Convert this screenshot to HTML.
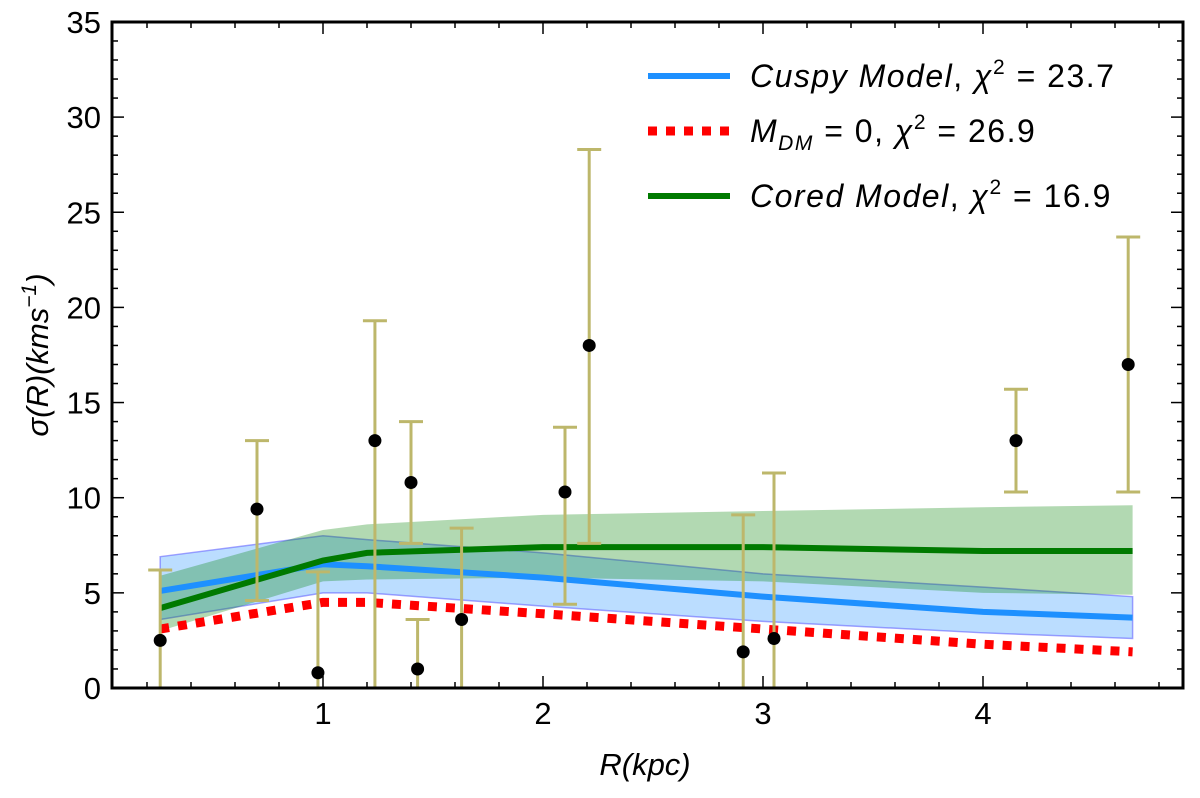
<!DOCTYPE html>
<html><head><meta charset="utf-8"><style>
body{margin:0;background:#fff;}
svg text{font-family:"Liberation Sans",sans-serif;}
</style></head><body>
<svg id="chart" width="1200" height="793" xmlns="http://www.w3.org/2000/svg"></svg>
<script>
const xs=[0.26,0.7,0.977,1.236,1.4,1.43,1.63,2.1,2.21,2.91,3.05,4.15,4.66];
const ys=[2.5,9.4,0.8,13,10.8,1.0,3.6,10.3,18,1.9,2.6,13,17];
const yHi=[6.2,13,6.1,19.3,14,3.6,8.4,13.7,28.3,9.1,11.3,15.7,23.7];
const yLo=[0,4.6,0,0,7.6,0,0,4.4,7.6,0,0,10.3,10.3];
const mx=[0.26,1.0,1.2,2,3,4,4.68];
const cuspy=[5.1,6.5,6.4,5.8,4.8,4.0,3.7];
const cuspyHi=[6.9,8.0,7.8,7.1,6.0,5.3,4.8];
const cuspyLo=[3.6,5.0,5.0,4.3,3.5,2.9,2.6];
const nodm=[3.1,4.5,4.5,3.9,3.1,2.3,1.9];
const cored=[4.2,6.7,7.1,7.4,7.4,7.2,7.2];
const coredHi=[5.9,8.3,8.6,9.1,9.3,9.5,9.6];
const coredLo=[3.0,5.6,5.7,5.8,5.6,5.0,4.9];
const xTicks=[1,2,3,4];
const yTicks=[0,5,10,15,20,25,30,35];
const L=112,R=1183,T=22,B=688;
const X=v=>103+220*v, Y=v=>688-19.03*v;
const svg=document.getElementById('chart');
const NS='http://www.w3.org/2000/svg';
function el(t,a,p){const e=document.createElementNS(NS,t);for(const k in a)e.setAttribute(k,a[k]);(p||svg).appendChild(e);return e;}
function band(lo,hi,fill,stroke,name){
  let d='M'+mx.map((x,i)=>X(x)+','+Y(hi[i])).join('L')+'L'+mx.map((x,i)=>X(x)+','+Y(lo[i])).reverse().join('L')+'Z';
  const e=el('path',{d:d,fill:fill,stroke:stroke,'stroke-width':1.5});
  
  
}
function line(v,color,w,dash,name){
  const e=el('polyline',{points:mx.map((x,i)=>X(x)+','+Y(v[i])).join(' '),fill:'none',stroke:color,'stroke-width':w,'stroke-dasharray':dash||'none'});
  
  
}
band(cuspyLo,cuspyHi,'rgba(30,144,255,0.3)','rgba(100,100,255,0.6)','cuspy-band');
band(coredLo,coredHi,'rgba(0,128,0,0.3)','none','cored-band');
line(nodm,'#ff0000',9,'9,9','nodm-line');
line(cuspy,'#1e90ff',6,null,'cuspy-line');
line(cored,'#007a00',6,null,'cored-line');
xs.forEach((x,i)=>{
  const g=el('g',{});
  
  
  el('line',{x1:X(x),x2:X(x),y1:Y(yLo[i]),y2:Y(yHi[i]),stroke:'#bdb76b','stroke-width':3},g);
  el('line',{x1:X(x)-12,x2:X(x)+12,y1:Y(yHi[i]),y2:Y(yHi[i]),stroke:'#bdb76b','stroke-width':3},g);
  if(yLo[i]>0)el('line',{x1:X(x)-12,x2:X(x)+12,y1:Y(yLo[i]),y2:Y(yLo[i]),stroke:'#bdb76b','stroke-width':3},g);
  el('circle',{cx:X(x),cy:Y(ys[i]),r:6.5,fill:'#000'},g);
});
const fr=el('rect',{x:L,y:T,width:R-L,height:B-T,fill:'none',stroke:'#000','stroke-width':3});

for(let v=0.2;v<4.9;v+=0.2){const big=Math.abs(v-Math.round(v))<0.01;const len=big?12:6;
  el('line',{x1:X(v),x2:X(v),y1:B,y2:B-len,stroke:'#000','stroke-width':1.5});
  el('line',{x1:X(v),x2:X(v),y1:T,y2:T+len,stroke:'#000','stroke-width':1.5});}
for(let v=1;v<35;v++){const big=v%5==0;const len=big?12:6;
  el('line',{x1:L,x2:L+len,y1:Y(v),y2:Y(v),stroke:'#000','stroke-width':1.5});
  el('line',{x1:R,x2:R-len,y1:Y(v),y2:Y(v),stroke:'#000','stroke-width':1.5});}
xTicks.forEach(v=>{const t=el('text',{x:X(v),y:724,'font-size':31,'text-anchor':'middle'});t.textContent=v;
  });
yTicks.forEach(v=>{const t=el('text',{x:101,y:Y(v)+11,'font-size':31,'text-anchor':'end'});t.textContent=v;
  });
const xt=el('text',{x:645,y:775,'font-size':31,'text-anchor':'middle','font-style':'italic'});xt.textContent='R(kpc)';

const yt=el('text',{x:0,y:0,'font-size':31,'text-anchor':'middle','font-style':'italic',transform:'translate(48,355) rotate(-90)'});
yt.innerHTML='σ(R)(kms<tspan dy="-12" font-size="21">−1</tspan><tspan dy="12">)</tspan>';

const leg=[['#1e90ff',null,'<tspan font-style="italic">Cuspy Model</tspan>, <tspan font-style="italic">χ</tspan><tspan dy="-13" font-size="21">2</tspan><tspan dy="13"> = 23.7</tspan>',76],
['#ff0000','9,9','<tspan font-style="italic">M</tspan><tspan dy="8" font-size="21" font-style="italic">DM</tspan><tspan dy="-8"> = 0, </tspan><tspan font-style="italic">χ</tspan><tspan dy="-13" font-size="21">2</tspan><tspan dy="13"> = 26.9</tspan>',131],
['#007a00',null,'<tspan font-style="italic">Cored Model</tspan>, <tspan font-style="italic">χ</tspan><tspan dy="-13" font-size="21">2</tspan><tspan dy="13"> = 16.9</tspan>',196]];
leg.forEach(l=>{const g=el('g',{});
  el('line',{x1:648,x2:730,y1:l[3],y2:l[3],stroke:l[0],'stroke-width':l[1]?9:6,'stroke-dasharray':l[1]||'none'},g);
  const t=el('text',{x:750,y:l[3]+11,'font-size':32,'letter-spacing':'1.5'},g);t.innerHTML=l[2];});
</script>
</body></html>
